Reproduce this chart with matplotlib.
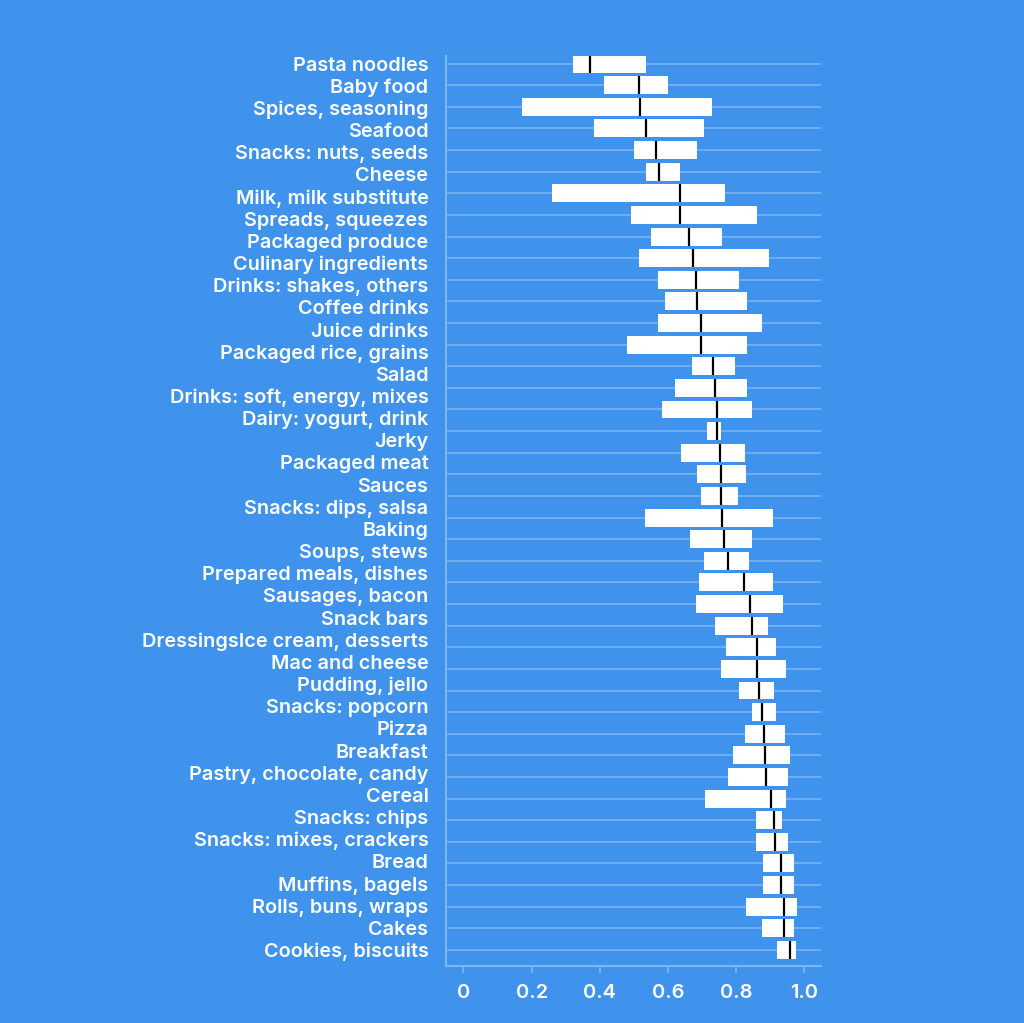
import numpy as np
import matplotlib.pyplot as plt

plt.rcParams['font.family'] = ['Inter', 'DejaVu Sans']

# labels as shown (41 lines spread over 42 rows of boxes)
labels = ['Pasta noodles', 'Baby food', 'Spices, seasoning', 'Seafood',
          'Snacks: nuts, seeds', 'Cheese', 'Milk, milk substitute',
          'Spreads, squeezes', 'Packaged produce', 'Culinary ingredients',
          'Drinks: shakes, others', 'Coffee drinks', 'Juice drinks',
          'Packaged rice, grains', 'Salad', 'Drinks: soft, energy, mixes',
          'Dairy: yogurt, drink', 'Jerky', 'Packaged meat', 'Sauces',
          'Snacks: dips, salsa', 'Baking', 'Soups, stews',
          'Prepared meals, dishes', 'Sausages, bacon', 'Snack bars',
          'DressingsIce cream, desserts', 'Mac and cheese', 'Pudding, jello',
          'Snacks: popcorn', 'Pizza', 'Breakfast', 'Pastry, chocolate, candy',
          'Cereal', 'Snacks: chips', 'Snacks: mixes, crackers', 'Bread',
          'Muffins, bagels', 'Rolls, buns, wraps', 'Cakes', 'Cookies, biscuits']

low = [0.322, 0.412, 0.172, 0.383, 0.500, 0.536, 0.260, 0.492, 0.550, 0.514,
       0.572, 0.592, 0.572, 0.481, 0.671, 0.621, 0.584, 0.715, 0.638, 0.686,
       0.697, 0.532, 0.666, 0.707, 0.692, 0.681, 0.738, 0.770, 0.756, 0.809,
       0.846, 0.825, 0.791, 0.776, 0.710, 0.858, 0.858, 0.880, 0.880, 0.829,
       0.877, 0.919]
median = [0.371, 0.515, 0.517, 0.537, 0.565, 0.573, 0.636, 0.636, 0.663, 0.675,
          0.682, 0.685, 0.697, 0.697, 0.731, 0.738, 0.744, 0.745, 0.753, 0.757,
          0.757, 0.759, 0.766, 0.776, 0.823, 0.841, 0.846, 0.861, 0.861, 0.868,
          0.877, 0.882, 0.886, 0.887, 0.902, 0.910, 0.914, 0.932, 0.932, 0.940,
          0.940, 0.957]
high = [0.537, 0.599, 0.729, 0.705, 0.686, 0.634, 0.768, 0.860, 0.758, 0.897,
        0.810, 0.832, 0.876, 0.832, 0.798, 0.832, 0.846, 0.757, 0.825, 0.830,
        0.806, 0.907, 0.846, 0.838, 0.907, 0.938, 0.895, 0.917, 0.947, 0.911,
        0.917, 0.943, 0.958, 0.951, 0.947, 0.936, 0.951, 0.969, 0.969, 0.980,
        0.969, 0.977]

bg = '#3f93ed'
grid_c = '#7db6f3'

fig = plt.figure(figsize=(10.24, 10.23), dpi=100, facecolor=bg)
ax = fig.add_axes([0.436, 0.056, 0.366, 0.889], facecolor=bg)

rows = np.arange(len(low))
low = np.array(low)
high = np.array(high)
median = np.array(median)

for r in rows:
    ax.axhline(r, color=grid_c, lw=1.1, zorder=1)

ax.barh(rows, high - low, left=low, height=0.83, color='white', zorder=2)
ax.vlines(median, rows - 0.415, rows + 0.415, color='black', lw=1.6, zorder=3)

ax.set_xlim(-0.05, 1.05)
ax.set_ylim(41.73, -0.34)

ax.set_yticks(np.linspace(0, 41, len(labels)))
ax.set_yticklabels(labels, color='white', fontsize=14.3, fontweight='semibold')
ax.tick_params(axis='y', length=0, pad=13)

ax.set_xticks([0, 0.2, 0.4, 0.6, 0.8, 1.0])
ax.set_xticklabels(['0', '0.2', '0.4', '0.6', '0.8', '1.0'], color='white',
                   fontsize=14.5, fontweight='semibold')
ax.tick_params(axis='x', colors=grid_c, length=5, width=1.2, pad=8,
               labelcolor='white')

for s in ['top', 'right']:
    ax.spines[s].set_visible(False)
for s in ['left', 'bottom']:
    ax.spines[s].set_color(grid_c)
    ax.spines[s].set_linewidth(1.5)

fig.savefig('out.png', dpi=100, facecolor=bg)
